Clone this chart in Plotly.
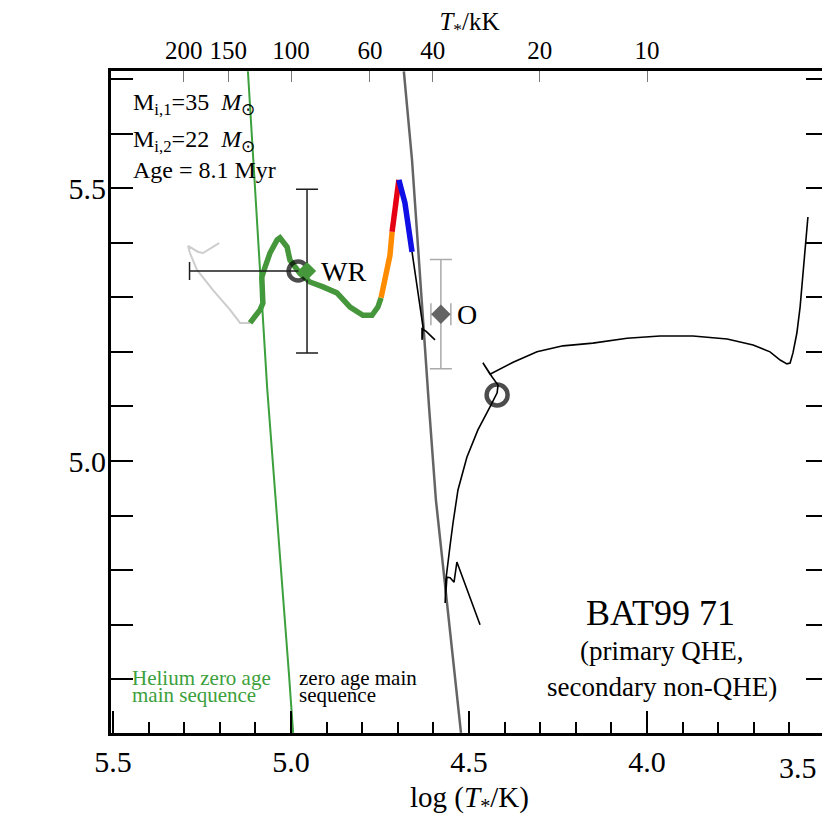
import numpy as np
import plotly.graph_objects as go

# ---------------- data ----------------
# Helium zero-age main sequence
he_zams_logT = [5.121, 5.0955, 5.067, 5.006, 4.994]
he_zams_logL = [5.714, 5.4415, 5.134, 4.612, 4.502]

# hydrogen zero-age main sequence
zams_logT = [4.683, 4.660, 4.612, 4.593, 4.5225]
zams_logL = [5.714, 5.551, 5.097, 4.929, 4.502]

# primary track (QHE) – light grey part
prim_grey_logT = [5.202, 5.247, 5.261, 5.289, 5.284, 5.264, 5.219, 5.171, 5.143, 5.115]
prim_grey_logL = [5.399, 5.381, 5.383, 5.394, 5.381, 5.350, 5.313, 5.277, 5.253, 5.253]

# primary track – green (WR) part
prim_green_logT = [5.115, 5.087, 5.079, 5.082, 5.082, 5.073, 5.059, 5.039, 5.031, 5.011,
                   5.003, 4.975, 4.947, 4.910, 4.871, 4.834, 4.798, 4.7725, 4.756, 4.747]
prim_green_logL = [5.253, 5.277, 5.289, 5.319, 5.337, 5.355, 5.381, 5.405, 5.409, 5.392,
                   5.368, 5.344, 5.328, 5.319, 5.308, 5.282, 5.267, 5.267, 5.282, 5.299]

prim_orange_logT = [4.747, 4.733, 4.722, 4.716]
prim_orange_logL = [5.299, 5.341, 5.377, 5.420]

prim_red_logT = [4.716, 4.708, 4.697]
prim_red_logL = [5.420, 5.460, 5.515]

prim_blue_logT = [4.697, 4.680, 4.660]
prim_blue_logL = [5.515, 5.473, 5.383]

prim_black_logT = [4.660, 4.638, 4.629, 4.632, 4.632, 4.621, 4.5955]
prim_black_logL = [5.383, 5.286, 5.245, 5.222, 5.242, 5.238, 5.222]

# secondary track (non-QHE)
sec_logT = [4.469, 4.534, 4.542, 4.553, 4.562, 4.567, 4.565, 4.559, 4.553, 4.545,
            4.531, 4.506, 4.475, 4.441, 4.421, 4.4185, 4.435, 4.461, 4.441, 4.376,
            4.309, 4.236, 4.152, 4.056, 3.9635, 3.871, 3.775, 3.702, 3.6545, 3.626,
            3.607, 3.598, 3.590, 3.579, 3.570, 3.548]
sec_logL = [4.700, 4.815, 4.778, 4.786, 4.787, 4.740, 4.782, 4.819, 4.846, 4.886,
            4.947, 5.007, 5.057, 5.099, 5.125, 5.139, 5.154, 5.180, 5.159, 5.181,
            5.200, 5.211, 5.216, 5.225, 5.229, 5.229, 5.2235, 5.2125, 5.200, 5.185,
            5.178, 5.1795, 5.198, 5.2345, 5.282, 5.447]

# current model positions
model_logT = [4.980, 4.421]
model_logL = [5.348, 5.121]

# observed components
wr_logT, wr_logL = 4.955, 5.348
wr_errT_hot, wr_errL = 0.33, 0.15
o_logT, o_logL = 4.579, 5.269
o_errT, o_errL = 0.028, 0.10

# axis ticks
bottom_tickvals = [3.5, 4.0, 4.5, 5.0, 5.5]
bottom_ticktext = ["", "4.0", "4.5", "5.0", "5.5"]   # "3.5" is drawn pulled in from the edge
top_T_kK = [200, 150, 100, 60, 40, 20, 10]

# ---------------- figure ----------------
SERIF = "Liberation Serif, Times New Roman, serif"
GREEN_LINE = "rgb(60,160,60)"
GREEN_TRACK = "rgb(70,150,60)"

fig = go.Figure()

def line(x, y, color, width, **kw):
    fig.add_trace(go.Scatter(x=x, y=y, mode="lines", line=dict(color=color, width=width),
                             showlegend=False, hoverinfo="skip", **kw))

line(zams_logT, zams_logL, "rgb(100,100,100)", 2.5)
line(prim_grey_logT, prim_grey_logL, "rgb(205,205,205)", 2)
line(prim_green_logT, prim_green_logL, GREEN_TRACK, 5.5)
line(he_zams_logT, he_zams_logL, GREEN_LINE, 2)
line(prim_orange_logT, prim_orange_logL, "rgb(255,140,0)", 5.5)
line(prim_red_logT, prim_red_logL, "rgb(230,0,20)", 5.5)
line(prim_blue_logT, prim_blue_logL, "rgb(15,15,230)", 5.5)
line(prim_black_logT, prim_black_logL, "black", 1.6)
line(sec_logT, sec_logL, "black", 1.6)

# error bars and markers of observed stars
fig.add_trace(go.Scatter(
    x=[o_logT], y=[o_logL], mode="markers",
    marker=dict(symbol="diamond", size=15, color="rgb(100,100,100)"),
    error_x=dict(type="data", array=[o_errT], color="rgb(170,170,170)", thickness=1.5, width=11),
    error_y=dict(type="data", array=[o_errL], color="rgb(170,170,170)", thickness=1.5, width=11),
    showlegend=False, hoverinfo="skip"))

fig.add_trace(go.Scatter(
    x=model_logT, y=model_logL, mode="markers",
    marker=dict(symbol="circle-open", size=[19, 21], color="black", line=dict(color="black", width=4.5)),
    showlegend=False, hoverinfo="skip"))

fig.add_trace(go.Scatter(
    x=[wr_logT], y=[wr_logL], mode="markers",
    marker=dict(symbol="diamond", size=14, color=GREEN_TRACK),
    error_x=dict(type="data", array=[wr_errT_hot], arrayminus=[0], color="rgb(30,30,30)",
                 thickness=1.5, width=9),
    error_y=dict(type="data", array=[wr_errL], color="rgb(30,30,30)", thickness=1.5, width=11),
    showlegend=False, hoverinfo="skip"))

# dummy trace to activate the top axis
fig.add_trace(go.Scatter(x=[4.5], y=[5.0], xaxis="x2", yaxis="y", mode="markers",
                         marker=dict(opacity=0), showlegend=False, hoverinfo="skip"))

XR = [5.5056, 3.4916]
YR = [4.5017, 5.7145]

# the html page adds an 8px body margin: figure shifted by 8px, kept short enough to avoid scrollbars
fig.update_layout(
    width=822, height=809,
    margin=dict(l=103, r=2, t=63, b=84, autoexpand=False),
    plot_bgcolor="white", paper_bgcolor="white",
    font=dict(family=SERIF, color="black"),
    xaxis=dict(
        range=XR, showgrid=False, zeroline=False, automargin=False,
        showline=True, linecolor="black", linewidth=3, mirror=True,
        ticks="inside", ticklen=22, tickwidth=2, tickcolor="black",
        tickmode="array", tickvals=bottom_tickvals, ticktext=bottom_ticktext,
        minor=dict(ticks="inside", ticklen=11, tickwidth=2, tickcolor="black",
                   tickmode="linear", dtick=0.1, tick0=3.5),
        tickfont=dict(family=SERIF, size=30), ticklabelstandoff=0,
        title=dict(text="log (<i>T</i><sub>*</sub>/K)", font=dict(family=SERIF, size=29), standoff=16),
    ),
    xaxis2=dict(
        range=XR, overlaying="x", side="top", anchor="y", automargin=False,
        showgrid=False, zeroline=False, showline=False,
        tickmode="array", tickvals=[float(np.log10(t * 1000)) for t in top_T_kK],
        ticktext=[str(t) for t in top_T_kK],
        ticks="inside", ticklen=11, tickwidth=1, tickcolor="rgb(120,120,120)",
        tickfont=dict(family=SERIF, size=25), ticklabelstandoff=6,
        title=dict(text="<i>T</i><sub>*</sub>/kK", font=dict(family=SERIF, size=25), standoff=10),
    ),
    yaxis=dict(
        range=YR, showgrid=False, zeroline=False, automargin=False,
        showline=True, linecolor="black", linewidth=3, mirror="allticks",
        ticks="inside", ticklen=22, tickwidth=2, tickcolor="black",
        tick0=5.0, dtick=0.5, tickformat=".1f",
        minor=dict(ticks="inside", ticklen=11, tickwidth=2, tickcolor="black", dtick=0.1, tick0=5.0),
        tickfont=dict(family=SERIF, size=30), ticklabelstandoff=-4,
    ),
)

def txt(x, y, s, size, xanchor="left", color="black", xref="paper", yref="paper"):
    fig.add_annotation(x=x, y=y, xref=xref, yref=yref, text=s, showarrow=False,
                       xanchor=xanchor, yanchor="middle",
                       font=dict(family=SERIF, size=size, color=color))

# "3.5" tick label, pulled inside the page edge as in the reference
txt(0.988, -0.052, "3.5", 30, xanchor="right")

txt(0.028, 0.950, "M<sub>i,1</sub>=35  <i>M</i><sub>⊙</sub>", 24)
txt(0.028, 0.895, "M<sub>i,2</sub>=22  <i>M</i><sub>⊙</sub>", 24)
txt(0.028, 0.850, "Age = 8.1 Myr", 24)

txt(4.920, wr_logL, "WR", 28, xref="x", yref="y")
txt(4.540, o_logL, "O", 28, xref="x", yref="y")

txt(0.026, 0.083, "Helium zero age", 21, color=GREEN_LINE)
txt(0.026, 0.057, "main sequence", 21, color=GREEN_LINE)
txt(0.259, 0.083, "zero age main", 21)
txt(0.259, 0.057, "sequence", 21)

txt(0.767, 0.181, "BAT99 71", 36, xanchor="center")
txt(0.768, 0.124, "(primary QHE,", 27, xanchor="center")
txt(0.768, 0.070, "secondary non-QHE)", 27, xanchor="center")

fig.write_html("out.html")
